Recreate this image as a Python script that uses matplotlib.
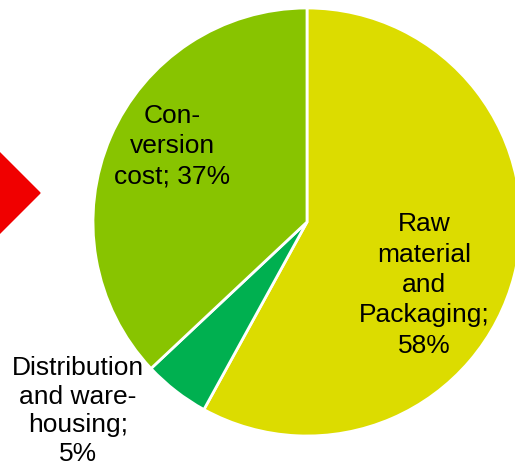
import matplotlib
matplotlib.use("Agg")
import matplotlib.pyplot as plt
from matplotlib.patches import Polygon

# cost split of the product
labels = ["Raw\nmaterial\nand\nPackaging;\n58%",
          "Distribution\nand ware-\nhousing;\n5%",
          "Con-\nversion\ncost; 37%"]
shares = [58, 5, 37]
colors = ["#dcdc00", "#00b050", "#88c400"]

W, H = 515, 471
cx, cy, R = 307, 222, 214   # pie centre and radius in pixels

fig = plt.figure(figsize=(W / 100, H / 100), dpi=100)
ax = fig.add_axes([0, 0, 1, 1])

ax.pie(shares, colors=colors, startangle=90, counterclock=False, radius=1,
       wedgeprops=dict(edgecolor="white", linewidth=2))

ax.set_xlim(-cx / R, (W - cx) / R)
ax.set_ylim(-(H - cy) / R, cy / R)
ax.set_aspect("auto")
ax.axis("off")

def px(x, y):
    return (x - cx) / R, (cy - y) / R

# label positions (pixel centres) and line spacing
label_pos = [(424, 285), (78, 411), (172, 146)]
spacing = [1.34, 1.24, 1.34]
for txt, (x, y), ls in zip(labels, label_pos, spacing):
    ax.text(*px(x, y), txt, ha="center", va="center", fontsize=19,
            family="Liberation Sans", linespacing=ls, color="black")

# red arrow tip at the left edge
arrow = Polygon([(-10 / W, 1 - 143 / H), (40 / W, 1 - 193 / H), (-10 / W, 1 - 243 / H)],
                closed=True, transform=fig.transFigure, color="#f00000", clip_on=False)
fig.patches.append(arrow)

fig.savefig("out.png", dpi=100)
